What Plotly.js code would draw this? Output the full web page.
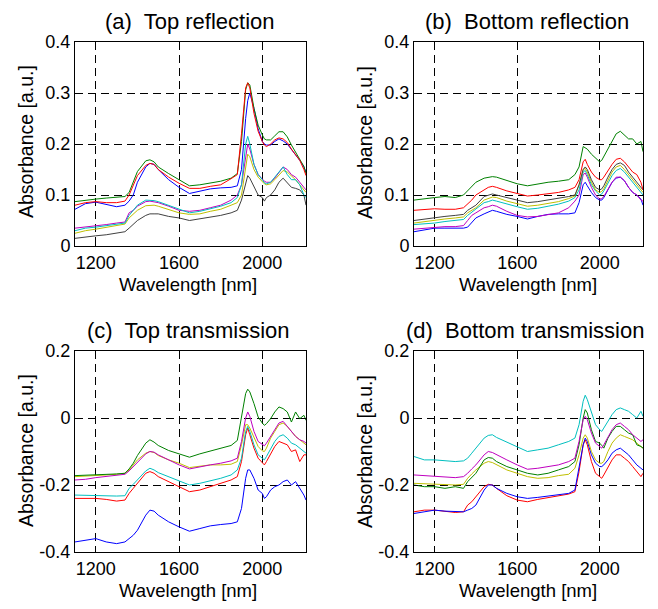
<!DOCTYPE html>
<html>
<head>
<meta charset="utf-8">
<script src="https://cdn.plot.ly/plotly-3.0.1.min.js"></script>
<style>html,body{margin:0;padding:0;background:#fff}#chart{width:658px;height:609px}</style>
</head>
<body>
<div id="chart"></div>
<script>
// Wavelength grid [nm]
const wl = [1100,1150,1200,1250,1300,1340,1360,1380,1400,1440,1460,1480,1500,1550,1600,1650,1700,1750,1800,1850,1880,1900,1920,1930,1940,1960,1980,2000,2010,2020,2040,2060,2080,2100,2120,2140,2160,2180,2200,2210];

// (a) Top reflection
const aGreen  = [.087,.09,.092,.094,.095,.097,.105,.125,.146,.167,.169,.165,.155,.142,.13,.118,.12,.123,.127,.133,.142,.205,.306,.32,.316,.27,.237,.218,.21,.208,.208,.216,.224,.224,.214,.198,.184,.172,.156,.142];
const aRed    = [.08,.085,.087,.085,.085,.088,.1,.118,.138,.158,.162,.16,.15,.135,.123,.113,.113,.117,.12,.132,.14,.22,.31,.32,.31,.26,.225,.205,.198,.195,.2,.208,.212,.21,.203,.19,.18,.168,.15,.138];
const aBlue   = [.072,.083,.086,.082,.077,.08,.088,.1,.125,.155,.162,.16,.15,.13,.115,.103,.108,.112,.114,.115,.118,.15,.25,.285,.3,.27,.23,.205,.2,.198,.198,.205,.21,.206,.2,.19,.18,.168,.155,.145];
const aCyan   = [.03,.035,.037,.04,.042,.045,.06,.07,.08,.09,.09,.089,.087,.08,.073,.065,.068,.073,.078,.085,.095,.12,.2,.215,.2,.16,.14,.13,.124,.122,.125,.135,.145,.155,.14,.13,.13,.12,.1,.095];
const aMagenta= [.035,.037,.04,.042,.045,.047,.065,.07,.078,.087,.088,.087,.085,.078,.07,.068,.07,.075,.08,.09,.1,.12,.18,.2,.19,.16,.14,.13,.127,.125,.125,.133,.145,.155,.15,.14,.135,.125,.115,.11];
const aYellow = [.025,.03,.033,.037,.04,.043,.055,.062,.07,.079,.08,.08,.078,.072,.065,.062,.063,.068,.072,.08,.085,.1,.16,.18,.175,.15,.135,.125,.122,.12,.122,.13,.14,.148,.145,.138,.13,.12,.11,.105];
const aGray   = [.015,.018,.02,.022,.025,.028,.035,.042,.05,.06,.063,.063,.063,.058,.055,.05,.053,.057,.06,.065,.07,.09,.125,.138,.133,.115,.1,.095,.088,.095,.1,.11,.125,.133,.125,.115,.113,.11,.1,.08];

// (b) Bottom reflection
const bGreen  = [.09,.093,.095,.097,.095,.1,.108,.115,.125,.133,.135,.136,.135,.128,.122,.118,.122,.125,.127,.13,.14,.155,.195,.193,.19,.18,.172,.165,.168,.175,.19,.205,.22,.225,.218,.21,.21,.2,.205,.185];
const bRed    = [.07,.072,.073,.072,.072,.075,.082,.09,.1,.11,.115,.117,.115,.108,.103,.098,.1,.103,.105,.11,.115,.13,.165,.17,.16,.145,.135,.13,.13,.135,.148,.16,.17,.172,.165,.155,.145,.14,.125,.11];
const bGray   = [.05,.053,.055,.058,.06,.062,.07,.075,.08,.097,.1,.102,.1,.095,.09,.085,.087,.09,.093,.097,.1,.12,.15,.155,.15,.13,.115,.11,.112,.118,.135,.15,.16,.163,.158,.145,.135,.125,.115,.11];
const bYellow = [.045,.048,.05,.053,.055,.057,.065,.07,.075,.09,.093,.096,.095,.088,.083,.078,.08,.083,.087,.093,.098,.12,.15,.152,.145,.125,.11,.105,.107,.112,.13,.145,.155,.158,.15,.14,.13,.12,.11,.105];
const bCyan   = [.042,.043,.045,.048,.05,.052,.06,.066,.072,.085,.087,.09,.088,.082,.077,.072,.074,.078,.082,.088,.095,.11,.145,.148,.14,.12,.108,.1,.102,.108,.122,.138,.148,.152,.145,.135,.125,.115,.105,.1];
const bMagenta= [.033,.035,.037,.038,.038,.04,.05,.06,.065,.075,.077,.08,.078,.068,.06,.057,.058,.062,.065,.075,.088,.1,.14,.143,.135,.115,.1,.092,.093,.097,.11,.125,.135,.135,.128,.115,.105,.1,.09,.088];
const bBlue   = [.028,.032,.035,.035,.035,.035,.037,.045,.055,.063,.066,.07,.068,.062,.058,.053,.058,.062,.063,.063,.065,.085,.12,.125,.118,.105,.095,.09,.09,.095,.11,.125,.133,.135,.128,.115,.105,.1,.092,.08];

// (c) Top transmission
const cGreen  = [-.172,-.171,-.169,-.168,-.167,-.165,-.152,-.135,-.112,-.075,-.065,-.072,-.082,-.097,-.107,-.117,-.107,-.099,-.092,-.082,-.067,.003,.073,.086,.078,.043,.003,-.015,-.022,-.017,-.002,.018,.033,.028,.018,-.012,.018,-.002,.008,-.007];
const cMagenta= [-.185,-.183,-.178,-.175,-.172,-.168,-.158,-.145,-.13,-.107,-.1,-.102,-.11,-.125,-.14,-.152,-.145,-.14,-.135,-.128,-.12,-.07,0,.018,.005,-.04,-.07,-.08,-.083,-.075,-.055,-.035,-.015,-.01,-.025,-.04,-.055,-.065,-.07,-.075];
const cYellow = [-.175,-.174,-.172,-.17,-.168,-.165,-.155,-.14,-.125,-.105,-.1,-.103,-.112,-.125,-.135,-.148,-.143,-.14,-.14,-.138,-.13,-.08,-.02,-.02,-.03,-.06,-.085,-.098,-.1,-.09,-.06,-.04,-.02,-.015,-.025,-.04,-.055,-.065,-.075,-.08];
const cCyan   = [-.23,-.231,-.232,-.233,-.233,-.232,-.21,-.198,-.185,-.158,-.15,-.155,-.163,-.175,-.188,-.2,-.195,-.188,-.18,-.17,-.155,-.12,-.04,-.025,-.04,-.08,-.11,-.12,-.125,-.115,-.09,-.07,-.055,-.05,-.06,-.075,-.08,-.09,-.1,-.105];
const cRed    = [-.24,-.24,-.24,-.243,-.248,-.245,-.225,-.21,-.195,-.165,-.16,-.165,-.175,-.19,-.205,-.22,-.215,-.205,-.195,-.185,-.175,-.13,-.05,-.03,-.05,-.09,-.12,-.135,-.14,-.13,-.105,-.085,-.07,-.075,-.08,-.1,-.095,-.13,-.11,-.11];
const cBlue   = [-.37,-.365,-.36,-.37,-.375,-.37,-.36,-.35,-.335,-.29,-.275,-.278,-.29,-.31,-.325,-.338,-.33,-.322,-.318,-.315,-.31,-.27,-.18,-.155,-.155,-.18,-.215,-.225,-.24,-.235,-.215,-.205,-.2,-.19,-.185,-.2,-.19,-.21,-.23,-.245];

// (d) Bottom transmission
const dCyan   = [-.115,-.125,-.125,-.128,-.13,-.128,-.12,-.105,-.09,-.06,-.052,-.05,-.058,-.072,-.088,-.1,-.095,-.09,-.08,-.07,-.06,-.02,.05,.068,.055,.02,-.02,-.035,-.04,-.03,-.01,.01,.025,.03,.025,.02,.01,0,.02,.005];
const dMagenta= [-.17,-.172,-.173,-.176,-.178,-.175,-.165,-.152,-.14,-.11,-.1,-.103,-.11,-.125,-.14,-.153,-.15,-.145,-.14,-.13,-.12,-.07,-.005,.005,-.005,-.045,-.075,-.085,-.09,-.08,-.055,-.035,-.02,-.015,-.025,-.035,-.05,-.06,-.07,-.065];
const dGreen  = [-.2,-.205,-.205,-.21,-.205,-.21,-.19,-.178,-.165,-.125,-.118,-.12,-.13,-.145,-.155,-.165,-.17,-.165,-.155,-.145,-.13,-.08,0,.025,.015,-.035,-.07,-.075,-.082,-.09,-.06,-.04,-.025,-.025,-.035,-.045,-.05,-.08,-.085,-.09];
const dYellow = [-.195,-.196,-.197,-.199,-.2,-.198,-.18,-.167,-.155,-.135,-.13,-.133,-.14,-.155,-.165,-.175,-.18,-.178,-.172,-.168,-.15,-.11,-.06,-.05,-.06,-.1,-.125,-.135,-.135,-.13,-.1,-.075,-.06,-.05,-.055,-.06,-.065,-.075,-.085,-.09];
const dBlue   = [-.285,-.28,-.275,-.278,-.28,-.28,-.275,-.27,-.26,-.215,-.2,-.2,-.21,-.225,-.235,-.24,-.237,-.233,-.228,-.225,-.215,-.15,-.08,-.06,-.07,-.11,-.135,-.145,-.145,-.14,-.125,-.105,-.095,-.09,-.1,-.11,-.125,-.14,-.15,-.155];
const dRed    = [-.28,-.275,-.275,-.278,-.282,-.28,-.26,-.25,-.235,-.205,-.198,-.2,-.21,-.232,-.245,-.25,-.243,-.237,-.232,-.227,-.22,-.16,-.08,-.065,-.08,-.13,-.165,-.175,-.18,-.17,-.145,-.125,-.11,-.11,-.12,-.13,-.145,-.16,-.175,-.165];

// Ticks and labels
const xTickVals = [1200,1600,2000];
const xTickText = ['1200','1600','2000'];
const yTickValsR = [0,0.1,0.2,0.3,0.4];
const yTickTextR = ['0','0.1','0.2','0.3','0.4'];
const yTickValsT = [-0.4,-0.2,0,0.2];
const yTickTextT = ['-0.4','-0.2','0','0.2'];

const panelTitles = ['(a)  Top reflection','(b)  Bottom reflection','(c)  Top transmission','(d)  Bottom transmission'];
const xTitle = 'Wavelength [nm]';
const yTitle = 'Absorbance [a.u.]';

const C = {green:'#008000', red:'#ff0000', blue:'#0000ff', cyan:'#00bfbf', magenta:'#bf00bf', yellow:'#bfbf00', gray:'#404040'};

const panels = [
  {xa:'x', ya:'y', series:[[aGray,C.gray],[aYellow,C.yellow],[aMagenta,C.magenta],[aCyan,C.cyan],[aBlue,C.blue],[aGreen,C.green],[aRed,C.red]]},
  {xa:'x2', ya:'y2', series:[[bBlue,C.blue],[bMagenta,C.magenta],[bCyan,C.cyan],[bYellow,C.yellow],[bGray,C.gray],[bRed,C.red],[bGreen,C.green]]},
  {xa:'x3', ya:'y3', series:[[cBlue,C.blue],[cRed,C.red],[cCyan,C.cyan],[cYellow,C.yellow],[cMagenta,C.magenta],[cGreen,C.green]]},
  {xa:'x4', ya:'y4', series:[[dRed,C.red],[dBlue,C.blue],[dYellow,C.yellow],[dGreen,C.green],[dMagenta,C.magenta],[dCyan,C.cyan]]}
];

const traces = [];
panels.forEach(p => p.series.forEach(s => traces.push({
  x: wl, y: s[0], xaxis: p.xa, yaxis: p.ya, type: 'scatter', mode: 'lines',
  line: {color: s[1], width: 1}, hoverinfo: 'skip', showlegend: false
})));

const W = 658, H = 609;
const FONT = 'Liberation Sans, Arial, Helvetica, sans-serif';
const px2x = v => v / W;
const px2y = v => 1 - v / H;

function xaxis(dom, anchor) {
  return {domain: dom, anchor: anchor, range: [1100, 2210], tickmode: 'array', tickvals: xTickVals, ticktext: xTickText,
    showgrid: true, gridcolor: '#000', gridwidth: 1, griddash: '8px,5px', zeroline: false,
    showline: true, linecolor: '#000', linewidth: 1, mirror: 'ticks', ticks: 'inside', ticklen: 4, tickcolor: '#000',
    tickfont: {family: FONT, size: 18, color: '#000'}, automargin: false, fixedrange: true};
}
function yaxis(dom, anchor, rng, vals, text) {
  return {domain: dom, anchor: anchor, range: rng, tickmode: 'array', tickvals: vals, ticktext: text,
    showgrid: true, gridcolor: '#000', gridwidth: 1, griddash: '8px,5px', zeroline: false,
    showline: true, linecolor: '#000', linewidth: 1, mirror: 'ticks', ticks: 'inside', ticklen: 4, tickcolor: '#000',
    tickfont: {family: FONT, size: 18, color: '#000'}, automargin: false, fixedrange: true};
}

const xL = [px2x(75), px2x(306)], xR = [px2x(414), px2x(643)];
const yT = [px2y(246), px2y(42)], yB = [px2y(552), px2y(351)];

const ann = [];
function addText(text, x, y, size, angle) {
  ann.push({text: text, xref: 'paper', yref: 'paper', x: px2x(x), y: px2y(y), xanchor: 'center', yanchor: 'middle',
    showarrow: false, textangle: angle || 0, font: {family: FONT, size: size, color: '#000'}});
}
addText(panelTitles[0], 190, 22, 22);
addText(panelTitles[1], 527, 22, 22);
addText(panelTitles[2], 188, 330, 22);
addText(panelTitles[3], 525, 330, 22);
addText(xTitle, 188, 284, 18.5);
addText(xTitle, 528, 284, 18.5);
addText(xTitle, 188, 590, 18.5);
addText(xTitle, 528, 590, 18.5);
addText(yTitle, 26, 142, 19.5, -90);
addText(yTitle, 365, 142, 19.5, -90);
addText(yTitle, 26, 451, 19.5, -90);
addText(yTitle, 365, 451, 19.5, -90);

const layout = {
  width: W, height: H, margin: {l: 0, r: 0, t: 0, b: 0}, paper_bgcolor: '#fff', plot_bgcolor: '#fff',
  showlegend: false,
  xaxis: xaxis(xL, 'y'), yaxis: yaxis(yT, 'x', [0, 0.4], yTickValsR, yTickTextR),
  xaxis2: xaxis(xR, 'y2'), yaxis2: yaxis(yT, 'x2', [0, 0.4], yTickValsR, yTickTextR),
  xaxis3: xaxis(xL, 'y3'), yaxis3: yaxis(yB, 'x3', [-0.4, 0.2], yTickValsT, yTickTextT),
  xaxis4: xaxis(xR, 'y4'), yaxis4: yaxis(yB, 'x4', [-0.4, 0.2], yTickValsT, yTickTextT),
  annotations: ann
};

Plotly.newPlot('chart', traces, layout, {staticPlot: true, displayModeBar: false});
</script>
</body>
</html>
